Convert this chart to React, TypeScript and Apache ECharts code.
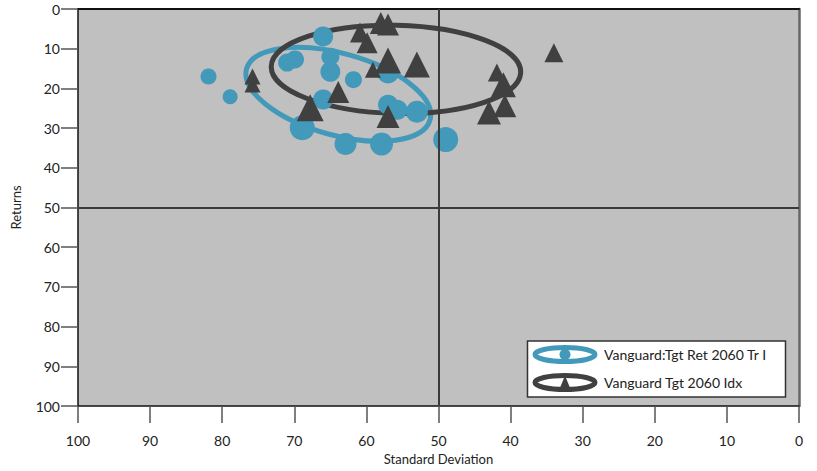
import React, { useEffect, useRef } from "react";
import * as echarts from "echarts";

// [std dev, return, marker size]
const fundPoints: number[][] = [
  [81.9, 17.0, 16],
  [78.9, 22.1, 15],
  [71.0, 13.5, 18],
  [69.9, 12.7, 18],
  [66.0, 6.9, 20],
  [65.0, 12.0, 18],
  [65.0, 15.8, 20],
  [61.8, 17.8, 17],
  [66.0, 22.8, 20],
  [68.9, 29.9, 25],
  [62.9, 34.0, 22],
  [57.9, 34.0, 23],
  [57.0, 24.1, 20],
  [55.7, 25.4, 20],
  [53.0, 25.9, 22],
  [49.0, 32.9, 25],
  [57.0, 16.0, 22],
];

const indexPoints: number[][] = [
  [58.0, 3.5, 22],
  [57.0, 3.9, 22],
  [60.9, 5.9, 20],
  [59.9, 8.5, 21],
  [57.0, 13.0, 26],
  [59.1, 15.3, 16],
  [53.0, 14.0, 26],
  [75.8, 17.0, 16],
  [75.8, 19.0, 16],
  [63.9, 20.9, 22],
  [67.8, 24.9, 27],
  [57.0, 27.1, 23],
  [34.0, 11.0, 19],
  [41.9, 16.0, 18],
  [41.0, 19.1, 25],
  [40.8, 24.4, 23],
  [43.0, 26.1, 24],
];

// [center x, center y, semi-axis a (x units), semi-axis b (y units), clockwise tilt deg]
const fundEllipse: number[] = [63.9, 21.5, 13.2, 10.3, 15.5];
const indexEllipse: number[] = [55.9, 15.2, 17.3, 11.1, 1.3];

const axisTicks: number[] = [0, 10, 20, 30, 40, 50, 60, 70, 80, 90, 100];
const seriesNames: string[] = ["Vanguard:Tgt Ret 2060 Tr I", "Vanguard Tgt 2060 Idx"];

const BLUE = "#4299b9";
const DARK = "#404040";
const FONT = "Lato, 'Open Sans', sans-serif";

function ellipseRenderer(color: string) {
  return (_params: any, api: any) => {
    const c = api.coord([api.value(0), api.value(1)]);
    const s = api.size([api.value(2), api.value(3)]);
    return {
      type: "ellipse",
      x: c[0],
      y: c[1],
      rotation: (-api.value(4) * Math.PI) / 180,
      shape: { cx: 0, cy: 0, rx: Math.abs(s[0]), ry: Math.abs(s[1]) },
      style: { fill: "none", stroke: color, lineWidth: 5 },
    };
  };
}

export default function App() {
  const ref = useRef<HTMLDivElement>(null);
  useEffect(() => {
    if (!ref.current) return;
    const chart = echarts.init(ref.current, null, { renderer: "svg" });
    const min = axisTicks[0];
    const max = axisTicks[axisTicks.length - 1];
    const interval = axisTicks[1] - axisTicks[0];
    const labelStyle = { fontFamily: FONT, fontSize: 14, color: "#222" };
    chart.setOption({
      animation: false,
      grid: {
        left: 78,
        right: 18,
        top: 9,
        bottom: 65,
        show: true,
        backgroundColor: "#c0c0c0",
        borderWidth: 0,
      },
      xAxis: [
        {
          type: "value",
          inverse: true,
          min,
          max,
          interval,
          position: "bottom",
          name: "Standard Deviation",
          nameLocation: "middle",
          nameGap: 46,
          nameTextStyle: { fontFamily: FONT, fontSize: 13, color: "#222" },
          axisLine: { show: true, onZero: false, lineStyle: { color: "#111", width: 1.5 } },
          axisTick: { show: true, length: 17, lineStyle: { color: "#555", width: 1.5 } },
          axisLabel: { ...labelStyle, margin: 27 },
          splitLine: { show: false },
        },
        {
          type: "value",
          inverse: true,
          min,
          max,
          position: "top",
          axisLine: { show: true, onZero: false, lineStyle: { color: "#111", width: 2 } },
          axisTick: { show: false },
          axisLabel: { show: false },
          splitLine: { show: false },
        },
      ],
      yAxis: [
        {
          type: "value",
          inverse: true,
          min,
          max,
          interval,
          position: "left",
          name: "Returns",
          nameLocation: "middle",
          nameGap: 56,
          nameTextStyle: { fontFamily: FONT, fontSize: 13, color: "#222" },
          axisLine: { show: true, onZero: false, lineStyle: { color: "#111", width: 1.5 } },
          axisTick: { show: true, length: 17, lineStyle: { color: "#555", width: 1.5 } },
          axisLabel: { ...labelStyle, margin: 18 },
          splitLine: { show: false },
        },
        {
          type: "value",
          inverse: true,
          min,
          max,
          position: "right",
          axisLine: { show: true, onZero: false, lineStyle: { color: "#666", width: 2.5 } },
          axisTick: { show: false },
          axisLabel: { show: false },
          splitLine: { show: false },
        },
      ],
      series: [
        {
          name: seriesNames[0],
          type: "scatter",
          data: fundPoints,
          symbol: "circle",
          symbolSize: (v: number[]) => v[2],
          itemStyle: { color: BLUE, opacity: 1 },
          markLine: {
            silent: true,
            symbol: "none",
            label: { show: false },
            lineStyle: { color: "#3a3a3a", width: 2, type: "solid" },
            data: [{ xAxis: 50 }, { yAxis: 50 }],
          },
        },
        {
          name: seriesNames[0] + " ellipse",
          type: "custom",
          coordinateSystem: "cartesian2d",
          data: [fundEllipse],
          encode: { x: 0, y: 1 },
          renderItem: ellipseRenderer(BLUE),
          silent: true,
        },
        {
          name: seriesNames[1] + " ellipse",
          type: "custom",
          coordinateSystem: "cartesian2d",
          data: [indexEllipse],
          encode: { x: 0, y: 1 },
          renderItem: ellipseRenderer(DARK),
          silent: true,
        },
        {
          name: seriesNames[1],
          type: "scatter",
          data: indexPoints,
          symbol: "triangle",
          symbolSize: (v: number[]) => v[2],
          itemStyle: { color: DARK, opacity: 1 },
        },
      ],
      graphic: [
        {
          type: "rect",
          shape: { x: 527.5, y: 341, width: 258, height: 56 },
          style: { fill: "#ffffff", stroke: "#333", lineWidth: 1.5 },
          z: 100,
        },
        {
          type: "ellipse",
          shape: { cx: 565, cy: 354.5, rx: 30, ry: 7 },
          style: { fill: "none", stroke: BLUE, lineWidth: 5 },
          z: 101,
        },
        {
          type: "circle",
          shape: { cx: 565, cy: 354.5, r: 5.5 },
          style: { fill: BLUE },
          z: 102,
        },
        {
          type: "ellipse",
          shape: { cx: 565, cy: 382.5, rx: 30, ry: 7 },
          style: { fill: "none", stroke: DARK, lineWidth: 5 },
          z: 101,
        },
        {
          type: "polygon",
          shape: { points: [[565, 375.5], [558.5, 391.5], [571.5, 391.5]] },
          style: { fill: DARK },
          z: 102,
        },
        {
          type: "text",
          x: 604,
          y: 354.5,
          style: {
            text: seriesNames[0],
            fontFamily: FONT,
            fontSize: 14,
            fill: "#222",
            verticalAlign: "middle",
          },
          z: 102,
        },
        {
          type: "text",
          x: 604,
          y: 382.5,
          style: {
            text: seriesNames[1],
            fontFamily: FONT,
            fontSize: 14,
            fill: "#222",
            verticalAlign: "middle",
          },
          z: 102,
        },
      ],
    });
    return () => chart.dispose();
  }, []);
  return <div ref={ref} style={{ width: 817, height: 471, position: "absolute", left: 0, top: 0 }} />;
}
